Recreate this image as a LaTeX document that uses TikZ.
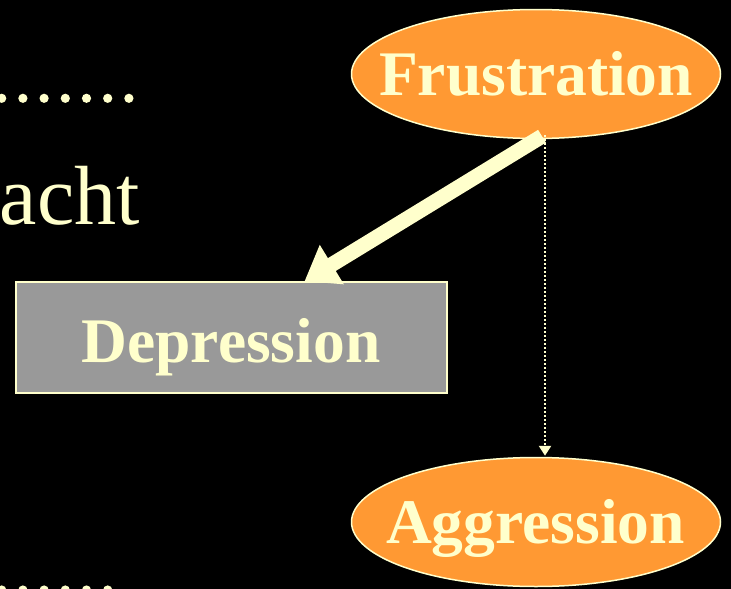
\documentclass[tikz,border=0pt]{standalone}
\usepackage{fontspec}
\setmainfont{Liberation Serif}
\usetikzlibrary{shapes.geometric,arrows.meta}
\definecolor{cream}{HTML}{FFFFCC}
\definecolor{orangefill}{HTML}{FF9933}
\definecolor{greyfill}{HTML}{999999}
\begin{document}
\begin{tikzpicture}[x=1pt,y=-1pt,
  bubble/.style={ellipse, draw=cream, line width=1.5pt, fill=orangefill,
    minimum width=369pt, minimum height=129pt, inner sep=0pt},
  boxnode/.style={rectangle, draw=cream, line width=1.5pt, fill=greyfill,
    minimum width=431pt, minimum height=111pt, inner sep=0pt},
  caption/.style={anchor=base, inner sep=0pt, text=cream,
    font=\fontsize{63.5}{64}\selectfont\bfseries},
  bigarrow/.style={cream, line width=15pt, -{Triangle[width=44pt,length=32pt]}},
  dotarrow/.style={cream, line width=2.5pt, dash pattern=on 2pt off 2pt,
    -{Triangle[width=12pt,length=10pt]}},
  bullet/.style={fill=cream}]
  % page background
  \fill[black] (0,0) rectangle (731,589);
  \useasboundingbox (0,0) rectangle (731,589);

  % dotted leader lines of the slide text
  \foreach \x in {1.7,22.9,44.1,65.3,86.5,107.7,128.9}
    \fill[bullet] (\x,98.3) circle (4.6pt);
  \foreach \x in {1.7,22.9,44.1,65.3,86.5,107.7}
    \fill[bullet] (\x,590) circle (4.6pt);

  % remaining slide text
  \node[anchor=base east, text=cream, inner sep=0pt,
    font=\fontsize{84}{84}\selectfont] (acht) at (140,224) {acht};

  % diagram nodes
  \node[bubble] (frus) at (536,74) {};
  \node[bubble] (agg) at (536,522) {};
  \node[boxnode] (dep) at (231.5,337.5) {};
  \node[caption] (frustext) at (536,95) {Frustration};
  \node[caption] (aggtext) at (535.5,543) {Aggression};
  \node[caption] (deptext) at (231,362) {Depression};

  % connectors
  \draw[bigarrow] ([xshift=6pt,yshift=3pt]frus.south) -- ([xshift=73pt]dep.north);
  \draw[dotarrow] ([xshift=9pt,yshift=4pt]frus.south) -- ([xshift=9pt,yshift=1pt]agg.north);
\end{tikzpicture}
\end{document}
